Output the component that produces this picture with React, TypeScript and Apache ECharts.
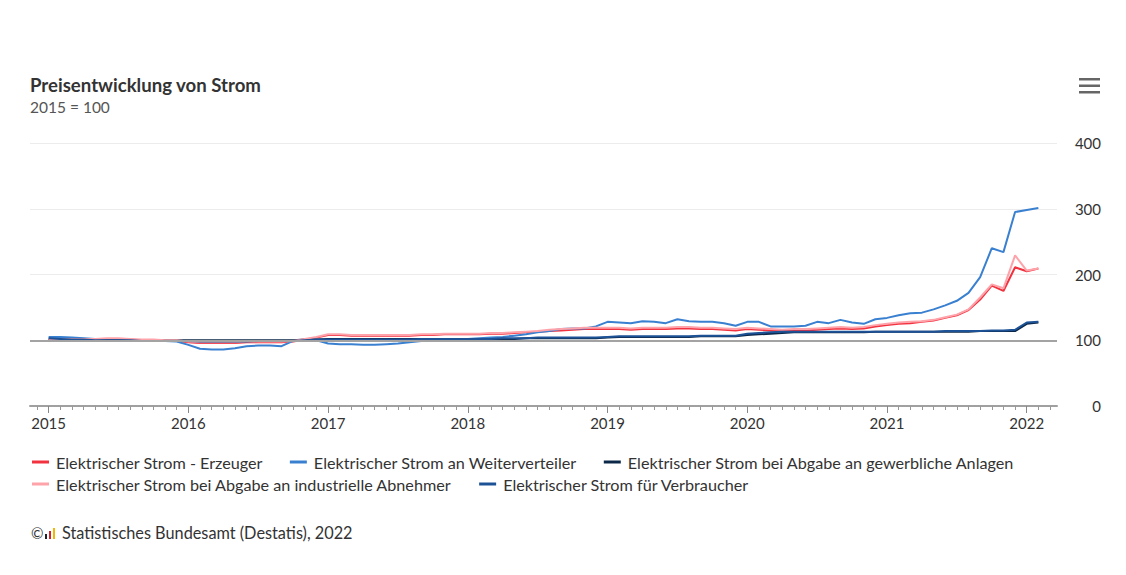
import React, { useEffect, useRef } from 'react';
import * as echarts from 'echarts';

const yearLabels = ['2015', '2016', '2017', '2018', '2019', '2020', '2021', '2022'];
const seriesNames = [
  'Elektrischer Strom - Erzeuger',
  'Elektrischer Strom an Weiterverteiler',
  'Elektrischer Strom bei Abgabe an gewerbliche Anlagen',
  'Elektrischer Strom bei Abgabe an industrielle Abnehmer',
  'Elektrischer Strom für Verbraucher',
];

// Monthly index values, Jan 2015 .. Feb 2022
const erzeuger = [
  101, 101, 101, 101, 101, 102, 102, 101, 100, 100, 99, 99,
  97, 96, 96, 96, 96, 97, 97, 97, 97, 98, 101, 104,
  108, 108, 107, 107, 107, 107, 107, 107, 108, 108, 109, 109,
  109, 109, 110, 110, 111, 112, 113, 114, 115, 116, 117, 117,
  117, 117, 116, 117, 117, 117, 118, 118, 117, 117, 116, 115,
  117, 116, 115, 114, 115, 115, 116, 117, 118, 117, 118, 121,
  123, 125, 126, 128, 130, 134, 138, 146, 162, 183, 175, 211,
  205, 209,
];
const weiterverteiler = [
  105, 105, 104, 103, 102, 101, 101, 100, 100, 99, 99, 98,
  93, 87, 86, 86, 88, 91, 92, 92, 91, 99, 101, 100,
  95, 94, 94, 93, 93, 94, 95, 97, 99, 100, 100, 101,
  102, 103, 104, 105, 107, 109, 112, 114, 117, 118, 118, 121,
  128, 127, 126, 129, 128, 126, 132, 129, 128, 128, 126, 122,
  128, 128, 121, 121, 121, 122, 128, 126, 131, 127, 125, 132,
  134, 138, 141, 142, 147, 153, 160, 172, 196, 240, 234, 295,
  298, 301,
];
const gewerbliche = [
  101, 101, 101, 100, 100, 100, 100, 100, 100, 100, 100, 100,
  100, 100, 100, 100, 100, 100, 100, 100, 100, 100, 101, 101,
  102, 102, 102, 102, 102, 102, 102, 102, 102, 102, 102, 102,
  102, 102, 102, 102, 102, 103, 103, 103, 103, 103, 103, 103,
  104, 105, 105, 105, 105, 105, 105, 105, 106, 106, 106, 106,
  108, 109, 110, 111, 112, 112, 112, 112, 112, 112, 112, 113,
  113, 113, 113, 113, 113, 113, 113, 113, 114, 114, 114, 114,
  125, 127,
];
const industrielle = [
  102, 102, 102, 102, 102, 103, 103, 102, 101, 101, 100, 100,
  98, 97, 97, 97, 97, 98, 98, 98, 98, 99, 102, 105,
  109, 109, 108, 108, 108, 108, 108, 108, 109, 109, 110, 110,
  110, 110, 111, 111, 112, 113, 114, 116, 117, 118, 119, 119,
  119, 119, 118, 119, 119, 119, 120, 120, 119, 119, 118, 117,
  119, 118, 117, 116, 117, 117, 118, 119, 120, 119, 120, 123,
  125, 127, 128, 129, 131, 135, 139, 147, 165, 185, 179, 229,
  206, 209,
];
const verbraucher = [
  103, 102, 101, 101, 100, 100, 100, 100, 99, 99, 99, 99,
  99, 98, 98, 98, 98, 98, 99, 99, 99, 99, 100, 101,
  101, 101, 101, 101, 101, 101, 101, 101, 102, 102, 102, 102,
  102, 102, 102, 103, 103, 103, 104, 104, 104, 104, 104, 104,
  105, 106, 106, 106, 106, 106, 106, 106, 107, 107, 107, 107,
  110, 111, 112, 113, 113, 113, 113, 113, 113, 113, 113, 113,
  113, 113, 113, 113, 113, 114, 114, 114, 114, 115, 115, 116,
  127, 128,
];

const seriesValues = [erzeuger, weiterverteiler, gewerbliche, industrielle, verbraucher];
const seriesColors = ['#f2323f', '#3a80d0', '#0c2849', '#ffa3ab', '#1d5296'];

const monthTicks: number[] = [];
for (let m = -1; m <= 86; m++) monthTicks.push(m);
const yearTicks = yearLabels.map((_, i) => i * 12);

const FONT = 'Lato';

export default function App() {
  const ref = useRef<HTMLDivElement>(null);
  useEffect(() => {
    document.body.style.margin = '0';
    const chart = echarts.init(ref.current!, null, { renderer: 'svg' });
    const series = seriesNames.map((name, i) => {
      const s: any = {
        name,
        type: 'line',
        xAxisIndex: 0,
        yAxisIndex: 0,
        symbol: 'none',
        data: seriesValues[i].map((v, k) => [k, v]),
        lineStyle: { color: seriesColors[i], width: 2 },
        itemStyle: { color: seriesColors[i] },
      };
      if (i === 0) {
        s.markLine = {
          silent: true,
          symbol: ['none', 'none'],
          label: { show: false },
          lineStyle: { color: '#a3a3a3', width: 2, type: 'solid' },
          data: [{ yAxis: 100 }],
        };
      }
      return s;
    });
    const legendCommon = {
      left: 32,
      padding: 0,
      orient: 'horizontal',
      icon: 'rect',
      itemWidth: 17,
      itemHeight: 3,
      itemGap: 27,
      textStyle: { fontFamily: FONT, fontSize: 16.2, color: '#333', padding: [0, 0, 0, 2] },
      selectedMode: false,
    };
    chart.setOption({
      animation: false,
      textStyle: { fontFamily: FONT },
      grid: { left: 30, right: 69, top: 143, bottom: 169 },
      xAxis: [
        {
          type: 'value',
          min: -1.6,
          max: 86.6,
          position: 'bottom',
          axisLine: { show: true, lineStyle: { color: '#a0a0a0', width: 2 } },
          axisTick: { show: true, customValues: monthTicks, length: 4, lineStyle: { color: '#999' } },
          axisLabel: {
            customValues: yearTicks,
            formatter: (v: number) => yearLabels[Math.round(v / 12)],
            margin: 9,
            fontSize: 15,
            color: '#333',
            fontFamily: FONT,
          },
          splitLine: { show: false },
        },
        {
          type: 'value',
          min: -1.6,
          max: 86.6,
          position: 'bottom',
          axisLine: { show: false },
          axisTick: { show: true, customValues: yearTicks, length: 7, lineStyle: { color: '#888' } },
          axisLabel: { show: false },
          splitLine: { show: false },
        },
      ],
      yAxis: {
        type: 'value',
        position: 'right',
        min: 0,
        max: 400,
        interval: 100,
        axisLine: { show: false },
        axisTick: { show: false },
        axisLabel: { align: 'right', margin: 44, fontSize: 15, color: '#333', fontFamily: FONT },
        splitLine: { lineStyle: { color: '#ececec', width: 1 } },
      },
      legend: [
        { ...legendCommon, top: 454, data: seriesNames.slice(0, 3) },
        { ...legendCommon, top: 476, data: seriesNames.slice(3) },
      ],
      series,
      graphic: [
        {
          type: 'text', left: 30, top: 75,
          style: { text: 'Preisentwicklung von Strom', font: `bold 18.6px ${FONT}`, fill: '#333' },
        },
        {
          type: 'text', left: 30, top: 99,
          style: { text: '2015 = 100', font: `15.5px ${FONT}`, fill: '#555' },
        },
        { type: 'rect', shape: { x: 1079, y: 78, width: 21, height: 2.5 }, style: { fill: '#666' } },
        { type: 'rect', shape: { x: 1079, y: 84.5, width: 21, height: 2.5 }, style: { fill: '#666' } },
        { type: 'rect', shape: { x: 1079, y: 91, width: 21, height: 2.5 }, style: { fill: '#666' } },
        {
          type: 'text', left: 31, top: 525,
          style: { text: '©', font: `15px ${FONT}`, fill: '#333' },
        },
        { type: 'rect', shape: { x: 45, y: 534, width: 2, height: 5 }, style: { fill: '#222' } },
        { type: 'rect', shape: { x: 49, y: 531, width: 2, height: 8 }, style: { fill: '#d0202a' } },
        { type: 'rect', shape: { x: 53, y: 528, width: 2, height: 11 }, style: { fill: '#f2b705' } },
        {
          type: 'text', left: 62, top: 524,
          style: { text: 'Statistisches Bundesamt (Destatis), 2022', font: `16.3px ${FONT}`, fill: '#333' },
        },
      ],
    });
    return () => chart.dispose();
  }, []);
  return <div ref={ref} style={{ width: 1126, height: 575 }} />;
}
